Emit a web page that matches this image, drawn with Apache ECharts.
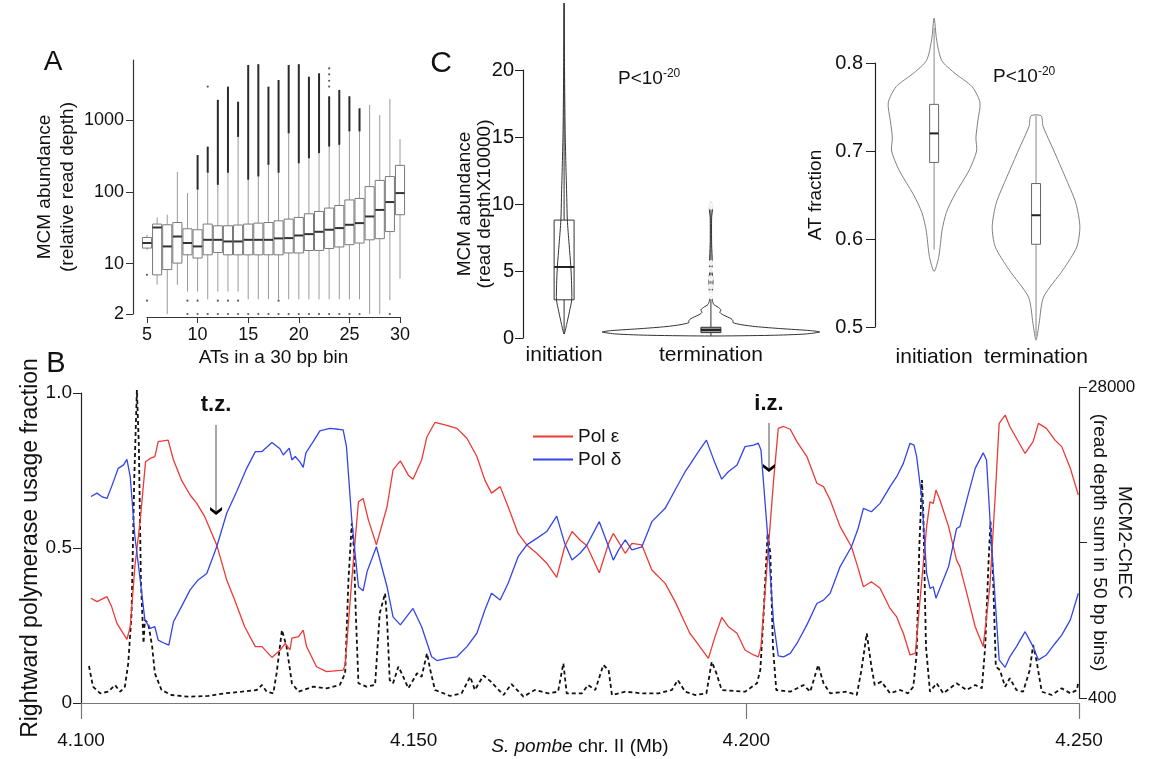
<!DOCTYPE html>
<html><head><meta charset="utf-8">
<script src="https://cdn.jsdelivr.net/npm/echarts@6/dist/echarts.min.js"></script>
<style>html,body{margin:0;padding:0;background:#fff}#c{width:1151px;height:759px}</style>
</head><body><div id="c"></div>
<script>
// ---------- Panel A: MCM abundance vs AT count ----------
const atBins      = [5,6,7,8,9,10,11,12,13,14,15,16,17,18,19,20,21,22,23,24,25,26,27,28,29,30];
const whiskerLow  = [15.6,5.1,2,5.1,4.1,4.1,3.2,4.1,4.1,4.1,3.2,3.2,3.2,3.2,3.2,3.2,3.2,3.2,3.2,3.2,3.2,3.2,2,2,3.1,6.2];
const boxQ1       = [16.5,7.0,8.3,10.2,13.3,12.0,13.3,14.3,13.3,13.3,13.3,13.3,13.3,13.3,14.1,14.1,15.3,15.3,16.3,17.1,18.4,19.4,21.5,22.3,28,48];
const boxMedian   = [19.4,31.9,17.4,23.9,19.4,17.4,21.5,21.5,20.4,20.4,21.5,21.5,21.5,22.5,22.7,24.7,25.8,27.8,29.7,31.3,34.8,36.7,45.4,56,72,96];
const boxQ3       = [23.2,35.6,34.8,37.4,30.6,29.7,35.6,33.7,33.7,34.5,35.6,36.7,37.4,39.5,41.7,44,49.5,53.3,59.4,64.5,77,80.8,118,144,163,233];
const whiskerHigh = [25.3,44,48,190,96,107,184,125,184,580,147,163,237,184,650,249,292,345,425,450,690,690,1610,1170,1950,540];
const outlierTop  = [null,null,null,null,null,324,425,1900,2900,1790,5800,5950,2900,3590,5800,5950,3980,4450,2130,2610,2130,1450,null,null,null,null];
const sparseOutliers = [[11,2900],[23,5200],[23,4300],[23,3500],[23,2900],[5,7.0],[5,3.06],
  [9,3.06],[10,3.06],[12,3.06],[13,3.06],[14,3.06],[18,3.06],
  [9,2],[10,2],[11,2],[12,2],[13,2],[14,2],[15,2],[16,2],[17,2],[18,2],[19,2],[20,2],[21,2],[22,2],[23,2],[24,2],[25,2],[26,2],[29,2]];
const aYTicks = [2,10,100,1000];

// ---------- Panel C ----------
const violinCats = ['initiation','termination'];
// density profiles: [value, half-width in category units]
const mcmProfileInit = [[0.3,0],[1,0.017],[2,0.037],[2.85,0.052],[4,0.051],[5.3,0.046],[7,0.034],[8.8,0.022],[10.5,0.018],[13,0.012],[15.5,0.007],[20,0.003],[25,0]];
const mcmProfileTerm = [[0.15,0],[0.2,0.408],[0.3,0.646],[0.45,0.741],[0.55,0.68],[0.7,0.476],[0.85,0.306],[1.0,0.204],[1.15,0.15],[1.3,0.15],[1.45,0.136],[1.7,0.088],[1.9,0.061],[2.1,0.068],[2.3,0.048],[2.5,0.02],[2.8,0.01],[3.3,0.01],[4.4,0.014],[5,0.007],[5.6,0.01],[7,0.005],[9,0.005],[9.8,0.012],[10.2,0]];
const mcmQ1 = [2.85,0.4], mcmMed = [5.3,0.6], mcmQ3 = [8.8,0.8], mcmWL = [0.3,0.15], mcmWH = [25,10.2];
const mcmTermOutliers = [3.1,3.35,3.85,4.45,5.1,5.6,9.8,10.15];

const atProfileInit = [[0.563,0],[0.58,0.046],[0.61,0.078],[0.63,0.12],[0.65,0.2],[0.678,0.343],[0.7,0.417],[0.715,0.41],[0.735,0.43],[0.755,0.45],[0.773,0.373],[0.789,0.196],[0.803,0.074],[0.826,0.025],[0.851,0]];
const atProfileTerm = [[0.485,0],[0.504,0.03],[0.534,0.074],[0.565,0.265],[0.591,0.4],[0.614,0.43],[0.641,0.39],[0.671,0.284],[0.701,0.172],[0.728,0.069],[0.74,0.05]];
const atQ1 = [0.687,0.594], atMed = [0.72,0.627], atQ3 = [0.753,0.663], atWL = [0.588,0.49], atWH = [0.84,0.74];

// ---------- Panel B ----------
const xTicksB = [4.100,4.150,4.200,4.250];
const polEps = [[4.1015,0.338],[4.1024,0.327],[4.1039,0.343],[4.1046,0.311],[4.1054,0.257],[4.1069,0.205],[4.1074,0.246],[4.1081,0.44],[4.1089,0.59],[4.1097,0.778],[4.1104,0.789],[4.1111,0.795],[4.1116,0.843],[4.1131,0.848],[4.1139,0.784],[4.1151,0.719],[4.1164,0.671],[4.1174,0.644],[4.1186,0.601],[4.1204,0.51],[4.1219,0.397],[4.1231,0.332],[4.1246,0.246],[4.1262,0.182],[4.1272,0.182],[4.1287,0.147],[4.1299,0.17],[4.1307,0.192],[4.1314,0.171],[4.1317,0.209],[4.1327,0.214],[4.1334,0.235],[4.1339,0.182],[4.1354,0.117],[4.1369,0.101],[4.1394,0.106],[4.1397,0.123],[4.1407,0.397],[4.1417,0.649],[4.1424,0.66],[4.1432,0.59],[4.1444,0.51],[4.146,0.633],[4.1469,0.752],[4.148,0.781],[4.1492,0.735],[4.1499,0.722],[4.1512,0.784],[4.152,0.859],[4.1532,0.905],[4.1547,0.897],[4.1565,0.886],[4.158,0.854],[4.1595,0.795],[4.1607,0.719],[4.1617,0.677],[4.163,0.698],[4.1642,0.633],[4.1657,0.547],[4.167,0.51],[4.1685,0.483],[4.17,0.451],[4.1715,0.405],[4.1727,0.504],[4.1738,0.553],[4.175,0.526],[4.176,0.508],[4.1779,0.42],[4.1793,0.515],[4.18,0.547],[4.1808,0.52],[4.1818,0.483],[4.1828,0.515],[4.1843,0.51],[4.1858,0.429],[4.1878,0.386],[4.1893,0.327],[4.1908,0.257],[4.1915,0.225],[4.1923,0.203],[4.193,0.182],[4.1943,0.144],[4.1953,0.214],[4.1963,0.276],[4.1973,0.246],[4.1986,0.225],[4.1998,0.171],[4.2011,0.155],[4.2018,0.149],[4.2022,0.182],[4.2031,0.44],[4.2041,0.719],[4.2048,0.886],[4.2056,0.892],[4.2066,0.883],[4.2076,0.843],[4.2091,0.795],[4.2106,0.709],[4.2116,0.698],[4.2126,0.655],[4.2141,0.569],[4.2158,0.504],[4.2168,0.435],[4.2176,0.375],[4.2188,0.391],[4.2201,0.37],[4.2216,0.305],[4.2226,0.278],[4.2231,0.25],[4.2236,0.225],[4.2246,0.155],[4.2254,0.16],[4.2261,0.332],[4.2271,0.569],[4.2276,0.649],[4.2281,0.644],[4.2285,0.687],[4.2291,0.655],[4.2304,0.569],[4.2316,0.461],[4.2321,0.44],[4.2334,0.332],[4.2344,0.246],[4.2356,0.182],[4.2366,0.375],[4.2374,0.666],[4.238,0.902],[4.2389,0.929],[4.2396,0.892],[4.2406,0.854],[4.2419,0.805],[4.2431,0.843],[4.2439,0.902],[4.2451,0.886],[4.2464,0.848],[4.2474,0.827],[4.2487,0.757],[4.2499,0.671]];
const polDelta = [[4.1015,0.666],[4.1024,0.677],[4.1031,0.666],[4.1039,0.66],[4.1046,0.698],[4.1056,0.757],[4.1064,0.768],[4.1069,0.786],[4.1074,0.73],[4.1081,0.537],[4.1089,0.397],[4.1096,0.268],[4.1104,0.241],[4.1111,0.246],[4.1116,0.203],[4.1126,0.192],[4.1132,0.187],[4.1139,0.262],[4.1151,0.311],[4.1164,0.365],[4.1176,0.397],[4.1189,0.418],[4.1204,0.504],[4.1219,0.612],[4.1234,0.682],[4.1249,0.757],[4.1262,0.811],[4.1272,0.811],[4.1287,0.84],[4.1299,0.82],[4.1304,0.8],[4.1313,0.822],[4.1317,0.784],[4.1322,0.795],[4.1329,0.778],[4.1334,0.76],[4.1338,0.807],[4.1349,0.843],[4.1359,0.878],[4.1374,0.886],[4.1387,0.883],[4.1394,0.881],[4.1399,0.827],[4.1407,0.59],[4.1417,0.375],[4.1424,0.362],[4.143,0.424],[4.1444,0.504],[4.146,0.375],[4.1469,0.278],[4.148,0.252],[4.1499,0.305],[4.1512,0.246],[4.1527,0.149],[4.1535,0.137],[4.155,0.144],[4.1565,0.149],[4.158,0.182],[4.1595,0.225],[4.1607,0.3],[4.1617,0.354],[4.163,0.332],[4.1642,0.386],[4.1657,0.472],[4.167,0.51],[4.1685,0.531],[4.17,0.553],[4.1715,0.603],[4.1727,0.515],[4.1738,0.461],[4.175,0.483],[4.176,0.508],[4.1779,0.585],[4.1793,0.504],[4.18,0.461],[4.1808,0.494],[4.1818,0.526],[4.1828,0.494],[4.1843,0.504],[4.1858,0.585],[4.1878,0.628],[4.1893,0.687],[4.1908,0.746],[4.1915,0.768],[4.1928,0.811],[4.194,0.848],[4.1953,0.773],[4.1963,0.722],[4.1973,0.746],[4.1986,0.768],[4.1998,0.827],[4.2011,0.832],[4.2018,0.838],[4.2022,0.816],[4.2031,0.569],[4.2041,0.257],[4.2048,0.152],[4.2056,0.149],[4.2066,0.16],[4.2076,0.192],[4.2091,0.252],[4.2106,0.321],[4.2116,0.332],[4.2126,0.354],[4.2141,0.44],[4.2158,0.504],[4.2168,0.563],[4.2176,0.628],[4.2188,0.617],[4.2201,0.644],[4.2216,0.698],[4.2226,0.73],[4.2236,0.773],[4.2246,0.838],[4.2252,0.832],[4.2256,0.795],[4.2264,0.655],[4.2271,0.418],[4.2276,0.37],[4.2281,0.375],[4.2285,0.338],[4.2291,0.37],[4.2304,0.44],[4.2316,0.563],[4.2321,0.569],[4.2334,0.677],[4.2344,0.757],[4.2356,0.807],[4.2361,0.784],[4.2366,0.601],[4.2374,0.332],[4.238,0.139],[4.2389,0.115],[4.2396,0.149],[4.2406,0.182],[4.2419,0.23],[4.2431,0.182],[4.2439,0.139],[4.2451,0.155],[4.2464,0.192],[4.2474,0.219],[4.2487,0.268],[4.2499,0.354]];
const mcmChec = [[4.1012,3240],[4.1018,1403],[4.1029,817],[4.1041,959],[4.1051,1554],[4.1059,959],[4.1066,1403],[4.1071,3480],[4.1076,7917],[4.108,19750],[4.1084,27735],[4.1087,22700],[4.109,10870],[4.1094,5255],[4.1096,7320],[4.1101,7030],[4.1107,4950],[4.1111,2590],[4.1121,1110],[4.1136,666],[4.1161,515],[4.1191,580],[4.1216,817],[4.1242,959],[4.1264,1110],[4.1272,1554],[4.1279,959],[4.1289,817],[4.1294,2590],[4.1302,6435],[4.1305,6585],[4.1309,4950],[4.1317,1705],[4.1327,959],[4.1349,1403],[4.1369,1260],[4.1389,1554],[4.1397,2590],[4.1402,10870],[4.1407,15900],[4.141,13830],[4.1413,7917],[4.1417,1705],[4.1429,1403],[4.1442,1554],[4.1449,7917],[4.1457,9690],[4.146,7320],[4.1464,1998],[4.1469,1705],[4.1477,3180],[4.1482,2590],[4.1492,1260],[4.1505,2590],[4.1512,2290],[4.152,4370],[4.1525,2885],[4.1532,1110],[4.1555,580],[4.1572,817],[4.1585,2290],[4.1592,1110],[4.1605,2400],[4.1616,1850],[4.1635,666],[4.1647,1640],[4.1665,515],[4.1682,1110],[4.1702,817],[4.1717,959],[4.1725,3480],[4.173,817],[4.1753,817],[4.1762,1554],[4.1773,1110],[4.1785,3330],[4.1793,2885],[4.1798,666],[4.1818,959],[4.1843,817],[4.1868,817],[4.1888,1110],[4.1897,1998],[4.1908,959],[4.1923,666],[4.194,817],[4.1948,3620],[4.1955,2590],[4.1963,1110],[4.1998,959],[4.2016,1705],[4.2021,2885],[4.2026,7917],[4.2032,15020],[4.2036,13240],[4.204,4950],[4.2045,1110],[4.2066,959],[4.2086,1554],[4.2096,959],[4.2108,3330],[4.2116,1705],[4.2126,817],[4.2151,959],[4.2166,666],[4.2173,2885],[4.2181,6140],[4.2188,3180],[4.2193,1554],[4.2203,1850],[4.2216,817],[4.2231,1110],[4.2243,817],[4.2251,1403],[4.2256,4370],[4.226,13830],[4.2264,19750],[4.2266,16790],[4.227,4950],[4.2276,959],[4.2286,1705],[4.2296,817],[4.2316,1705],[4.2331,1110],[4.2344,1554],[4.2354,1260],[4.2359,4950],[4.2364,12350],[4.2367,16050],[4.2371,10870],[4.2375,3180],[4.2381,2885],[4.2389,1403],[4.2396,2150],[4.2406,1110],[4.2416,959],[4.2426,2885],[4.2431,5100],[4.2436,3770],[4.2444,959],[4.2459,666],[4.2474,1260],[4.2487,817],[4.2497,1110],[4.2499,1850]];
const mcmRightTicks = [400,14200,28000];
const mcmRightLabels = [400,28000];
// annotations: [label, position (Mb), arrow top, arrow tip, label y]
const zoneNotes = [['t.z.',4.1203,0.897,0.619,0.962],['i.z.',4.2034,0.903,0.758,0.965]];

// ---------- drawing ----------
const FONT = 'Liberation Sans, Arial, Helvetica, sans-serif';
const INK = '#111';

function violinSeries(xi, yi, profiles, stroke) {
  return {
    type: 'custom', xAxisIndex: xi, yAxisIndex: yi, clip: false, silent: true, z: 2,
    data: profiles.map((p, i) => [i + 1, p[0][0]]),
    encode: {x: 0, y: 1},
    renderItem: (params, api) => {
      const prof = profiles[params.dataIndex];
      const cx = params.dataIndex + 1;
      const left = prof.map(([v, w]) => api.coord([cx - w, v]));
      const rightRaw = prof.slice().reverse().filter(([v, w]) => w > 0).map(([v, w]) => api.coord([cx + w, v]));
      return {type: 'polygon', shape: {points: left.concat(rightRaw), smooth: 0.25},
              style: {fill: 'rgba(255,255,255,0)', stroke: stroke, lineWidth: 1}};
    }
  };
}
function vBoxSeries(xi, yi, q1, med, q3, wl, wh, hwUnits, stroke, fills, whColor) {
  return {
    type: 'custom', xAxisIndex: xi, yAxisIndex: yi, clip: false, silent: true, z: 3,
    data: q1.map((v, i) => [i + 1, med[i]]),
    encode: {x: 0, y: 1},
    renderItem: (params, api) => {
      const i = params.dataIndex, cx = i + 1;
      const c = v => api.coord([cx, v]);
      const hw = api.coord([cx + hwUnits, med[i]])[0] - api.coord([cx, med[i]])[0];
      const pl = c(wl[i]), p1 = c(q1[i]), pm = c(med[i]), p3 = c(q3[i]), ph = c(wh[i]);
      return {type: 'group', children: [
        {type: 'line', shape: {x1: pl[0], y1: pl[1], x2: p1[0], y2: p1[1]}, style: {stroke: whColor, lineWidth: 1}},
        {type: 'line', shape: {x1: p3[0], y1: p3[1], x2: ph[0], y2: ph[1]}, style: {stroke: whColor, lineWidth: 1}},
        {type: 'rect', shape: {x: p3[0] - hw, y: p3[1], width: 2 * hw, height: p1[1] - p3[1]}, style: {fill: fills[i], stroke: stroke, lineWidth: 1}},
        {type: 'line', shape: {x1: pm[0] - hw, y1: pm[1], x2: pm[0] + hw, y2: pm[1]}, style: {stroke: '#222', lineWidth: 2}}
      ]};
    }
  };
}

const chevron = 'path://M0,0 L5,5 L10,0 L10,3.5 L5,9 L0,3.5 Z';
const pText = (x, y) => ({type: 'text', x: x, y: y, style: {
  text: '{a|P<10}{b|-20}', fill: INK, align: 'left', verticalAlign: 'middle', textAlign: 'left', textVerticalAlign: 'middle',
  rich: {a: {fontSize: 19, fontFamily: FONT, fill: INK, color: INK, lineHeight: 22},
         b: {fontSize: 12, fontFamily: FONT, fill: INK, color: INK, verticalAlign: 'top', lineHeight: 12}}}});
const grid0 = {outerBoundsMode: 'none', containLabel: false};

const option = {
  animation: false,
  backgroundColor: '#fff',
  textStyle: {fontFamily: FONT, color: INK},
  grid: [
    Object.assign({left: 147, top: 60, width: 253, height: 254}, grid0),
    Object.assign({left: 523, top: 70, width: 276, height: 268}, grid0),
    Object.assign({left: 875, top: 63, width: 212, height: 264}, grid0),
    Object.assign({left: 81, top: 393, width: 998, height: 310}, grid0),
    Object.assign({left: 81, top: 387, width: 998, height: 311}, grid0)
  ],
  xAxis: [
    {gridIndex: 0, type: 'value', min: 5, max: 30, interval: 5, offset: 3,
     axisLine: {lineStyle: {color: '#333', width: 1.2}}, axisTick: {length: 6, lineStyle: {color: '#333'}},
     axisLabel: {fontSize: 18, color: INK, margin: 9}, splitLine: {show: false},
     name: 'ATs in a 30 bp bin', nameLocation: 'middle', nameGap: 31, nameMoveOverlap: false, nameTextStyle: {fontSize: 19, color: INK}},
    {gridIndex: 1, type: 'value', min: 0.72, max: 2.6,
     axisLine: {show: false}, axisTick: {show: false}, splitLine: {show: false},
     axisLabel: {customValues: [1, 2], formatter: v => violinCats[Math.round(v) - 1], fontSize: 21, color: INK, margin: 7}},
    {gridIndex: 2, type: 'value', min: 0.42, max: 2.5,
     axisLine: {show: false}, axisTick: {show: false}, splitLine: {show: false},
     axisLabel: {customValues: [1, 2], formatter: v => violinCats[Math.round(v) - 1], fontSize: 21, color: INK, margin: 20}},
    {gridIndex: 3, type: 'value', min: 4.1, max: 4.25, interval: 0.05, offset: 9,
     axisLine: {lineStyle: {color: '#777', width: 1.2}}, axisTick: {length: 16, lineStyle: {color: '#777', width: 1.2}},
     axisLabel: {fontSize: 19, color: INK, margin: 19, formatter: v => v.toFixed(3), customValues: xTicksB},
     splitLine: {show: false},
     name: '{i|S. pombe} chr. II (Mb)', nameLocation: 'middle', nameGap: 25, nameMoveOverlap: false,
     nameTextStyle: {fontSize: 19, color: INK, rich: {i: {fontStyle: 'italic', fontSize: 19, color: INK, fontFamily: FONT}}}},
    {gridIndex: 4, type: 'value', min: 4.1, max: 4.25, show: false}
  ],
  yAxis: [
    {gridIndex: 0, type: 'log', logBase: 10, min: 2, max: 6800, offset: 14,
     axisLine: {lineStyle: {color: '#333', width: 1.2}},
     axisTick: {length: 7, customValues: aYTicks, lineStyle: {color: '#333'}},
     axisLabel: {customValues: aYTicks, formatter: v => String(Math.round(v)), fontSize: 18, color: INK, margin: 9},
     splitLine: {show: false}, minorTick: {show: false},
     name: 'MCM abundance\n(relative read depth)', nameLocation: 'middle', nameRotate: 90, nameGap: 54, nameMoveOverlap: false,
     nameTextStyle: {fontSize: 19, lineHeight: 23, color: INK}},
    {gridIndex: 1, type: 'value', min: 0, max: 20, interval: 5,
     axisLine: {show: true, lineStyle: {color: '#222', width: 1.2}}, axisTick: {show: true, length: 8, lineStyle: {color: '#222'}},
     axisLabel: {fontSize: 20, color: INK, margin: 9}, splitLine: {show: false},
     name: 'MCM abundance\n(read depthX10000)', nameLocation: 'middle', nameRotate: 90, nameGap: 28, nameMoveOverlap: false,
     nameTextStyle: {fontSize: 19, lineHeight: 20, color: INK}},
    {gridIndex: 2, type: 'value', min: 0.5, max: 0.8, interval: 0.1,
     axisLine: {show: true, lineStyle: {color: '#222', width: 1.2}}, axisTick: {show: true, length: 9, lineStyle: {color: '#222'}},
     axisLabel: {fontSize: 20, color: INK, margin: 12, formatter: v => v.toFixed(1)}, splitLine: {show: false},
     name: 'AT fraction', nameLocation: 'middle', nameRotate: 90, nameGap: 50, nameMoveOverlap: false,
     nameTextStyle: {fontSize: 19, color: INK}},
    {gridIndex: 3, type: 'value', min: 0, max: 1, interval: 0.5,
     axisLine: {show: true, lineStyle: {color: '#222', width: 1.2}}, axisTick: {show: true, length: 8, lineStyle: {color: '#222'}},
     axisLabel: {fontSize: 19, color: INK, margin: 9, formatter: v => v === 0 ? '0' : v.toFixed(1)}, splitLine: {show: false},
     name: 'Rightward polymerase usage fraction', nameLocation: 'middle', nameRotate: 90, nameGap: 39, nameMoveOverlap: false,
     nameTextStyle: {fontSize: 23, color: INK}},
    {gridIndex: 4, type: 'value', position: 'right', min: 400, max: 28000,
     axisLine: {show: true, lineStyle: {color: '#222', width: 1.2}},
     axisTick: {show: true, length: 8, customValues: mcmRightTicks, lineStyle: {color: '#222'}},
     axisLabel: {customValues: mcmRightLabels, formatter: v => String(Math.round(v)), fontSize: 17, color: INK, margin: 9}, splitLine: {show: false},
     name: 'MCM2-ChEC\n(read depth sum in 50 bp bins)', nameLocation: 'middle', nameRotate: -90, nameGap: 8, nameMoveOverlap: false,
     nameTextStyle: {fontSize: 19, lineHeight: 25, color: INK}}
  ],
  legend: {
    left: 533, top: 427, orient: 'vertical', padding: 0, itemWidth: 40, itemHeight: 2, itemGap: 4, icon: 'rect',
    textStyle: {fontSize: 19, color: INK}, data: ['Pol ε', 'Pol δ'], selectedMode: false
  },
  graphic: [
    {type: 'text', x: 53, y: 62, style: {text: 'A', font: '28px ' + FONT, fill: INK, align: 'center', verticalAlign: 'middle', textAlign: 'center', textVerticalAlign: 'middle'}},
    {type: 'text', x: 441, y: 64, style: {text: 'C', font: '30px ' + FONT, fill: INK, align: 'center', verticalAlign: 'middle', textAlign: 'center', textVerticalAlign: 'middle'}},
    {type: 'text', x: 56, y: 364, style: {text: 'B', font: '29px ' + FONT, fill: INK, align: 'center', verticalAlign: 'middle', textAlign: 'center', textVerticalAlign: 'middle'}},
    pText(618, 79),
    pText(993, 77)
  ],
  series: [
    {
      type: 'custom', name: 'boxes', xAxisIndex: 0, yAxisIndex: 0, clip: false, silent: true,
      data: atBins.map((b, i) => [b, boxMedian[i]]), encode: {x: 0, y: 1},
      renderItem: (params, api) => {
        const i = params.dataIndex, x = atBins[i];
        const c = v => api.coord([x, v]);
        const hw = api.coord([x + 0.45, boxMedian[i]])[0] - api.coord([x, boxMedian[i]])[0];
        const pl = c(whiskerLow[i]), p1 = c(boxQ1[i]), pm = c(boxMedian[i]), p3 = c(boxQ3[i]), ph = c(whiskerHigh[i]);
        const ch = [
          {type: 'line', shape: {x1: pl[0], y1: pl[1], x2: p1[0], y2: p1[1]}, style: {stroke: '#9a9a9a', lineWidth: 1}},
          {type: 'line', shape: {x1: p3[0], y1: p3[1], x2: ph[0], y2: ph[1]}, style: {stroke: '#9a9a9a', lineWidth: 1}}
        ];
        if (outlierTop[i] != null) {
          const po = c(outlierTop[i]);
          ch.push({type: 'line', shape: {x1: ph[0], y1: ph[1], x2: po[0], y2: po[1]}, style: {stroke: '#2a2a2a', lineWidth: 2}});
        }
        ch.push({type: 'rect', shape: {x: p3[0] - hw, y: p3[1], width: 2 * hw, height: p1[1] - p3[1]}, style: {fill: '#fff', stroke: '#7a7a7a', lineWidth: 1}});
        ch.push({type: 'line', shape: {x1: pm[0] - hw, y1: pm[1], x2: pm[0] + hw, y2: pm[1]}, style: {stroke: '#333', lineWidth: 2}});
        return {type: 'group', children: ch};
      }
    },
    {type: 'scatter', xAxisIndex: 0, yAxisIndex: 0, data: sparseOutliers, symbolSize: 2.2, itemStyle: {color: '#333'}, silent: true},
    violinSeries(1, 1, [mcmProfileInit, mcmProfileTerm], '#333'),
    vBoxSeries(1, 1, mcmQ1, mcmMed, mcmQ3, mcmWL, mcmWH, 0.068, '#333', ['rgba(255,255,255,0)', '#999'], '#333'),
    {type: 'scatter', xAxisIndex: 1, yAxisIndex: 1, data: mcmTermOutliers.map(v => [2, v]), symbol: 'emptyCircle', symbolSize: 4,
     itemStyle: {color: '#fff', borderColor: '#333', borderWidth: 1}, silent: true, z: 4},
    violinSeries(2, 2, [atProfileInit, atProfileTerm], '#808080'),
    vBoxSeries(2, 2, atQ1, atMed, atQ3, atWL, atWH, 0.044, '#666', ['#fff', '#fff'], '#888'),
    {
      type: 'line', name: 'Pol ε', xAxisIndex: 3, yAxisIndex: 3, data: polEps, showSymbol: false,
      lineStyle: {color: '#ee3a35', width: 1.3}, itemStyle: {color: '#ee3a35'}, z: 3,
      markLine: {silent: true, symbol: ['none', 'none'], label: {show: false},
        lineStyle: {color: '#8a8a8a', width: 1.5, type: 'solid'},
        data: zoneNotes.map(n => [{coord: [n[1], n[2]]}, {coord: [n[1], n[3]]}])},
      markPoint: {silent: true,
        data: zoneNotes.map(n => ({coord: [n[1], n[3]], symbol: chevron, symbolSize: [12, 8], itemStyle: {color: '#000'}, label: {show: false}}))
          .concat(zoneNotes.map(n => ({coord: [n[1], n[4]], symbol: 'rect', symbolSize: 1, itemStyle: {color: 'rgba(0,0,0,0)'},
            label: {show: true, position: 'inside', formatter: n[0], fontSize: 22, fontWeight: 'bold', color: '#111'}})))}
    },
    {
      type: 'line', name: 'Pol δ', xAxisIndex: 3, yAxisIndex: 3, data: polDelta, showSymbol: false,
      lineStyle: {color: '#3445e8', width: 1.3}, itemStyle: {color: '#3445e8'}, z: 3
    },
    {
      type: 'line', name: 'MCM2-ChEC', xAxisIndex: 4, yAxisIndex: 4, data: mcmChec, showSymbol: false,
      lineStyle: {color: '#111', width: 1.8, type: [4, 3]}, itemStyle: {color: '#111'}, z: 2
    }
  ]
};
const chart = echarts.init(document.getElementById('c'), null, {renderer: 'canvas'});
chart.setOption(option);
</script></body></html>
